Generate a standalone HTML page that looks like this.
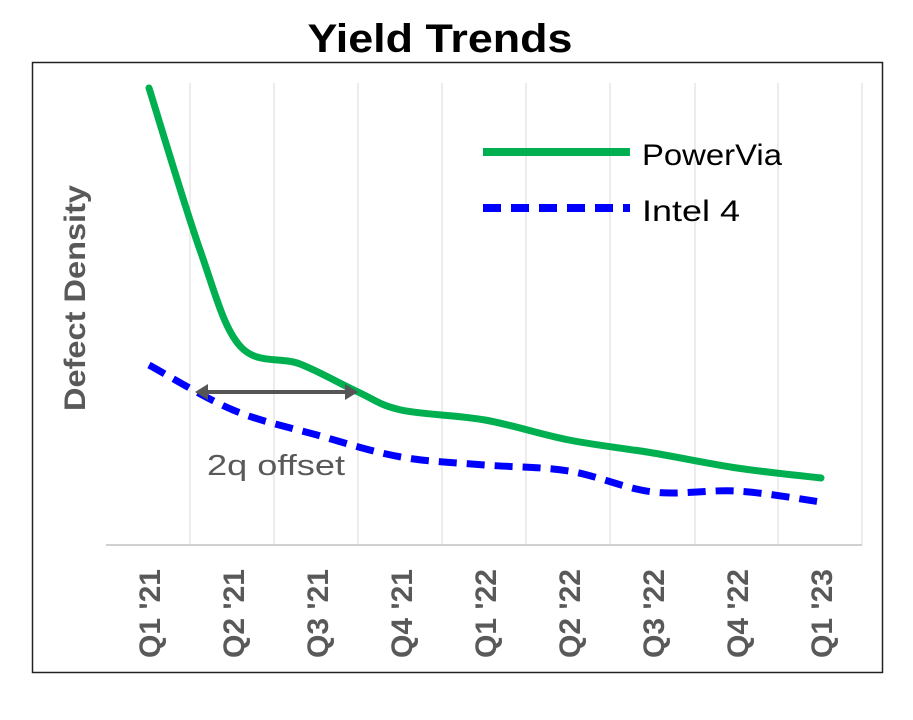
<!DOCTYPE html>
<html><head><meta charset="utf-8"><style>
html,body{margin:0;padding:0;background:#fff;}
svg{display:block;}
</style></head><body>
<svg id="s" width="913" height="720" viewBox="0 0 913 720" xmlns="http://www.w3.org/2000/svg" font-family="Liberation Sans, sans-serif">
<rect x="0" y="0" width="913" height="720" fill="#fff"/>
<text x="440" y="52" text-anchor="middle" font-size="40" font-weight="bold" fill="#000" textLength="265" lengthAdjust="spacingAndGlyphs">Yield Trends</text>
<rect x="32.5" y="62.5" width="850" height="610" fill="none" stroke="#222" stroke-width="1.5"/>
<g stroke="#d9d9d9" stroke-width="1">
<line x1="190" y1="83" x2="190" y2="545"/><line x1="274" y1="83" x2="274" y2="545"/>
<line x1="358" y1="83" x2="358" y2="545"/><line x1="442" y1="83" x2="442" y2="545"/>
<line x1="526" y1="83" x2="526" y2="545"/><line x1="610" y1="83" x2="610" y2="545"/>
<line x1="695" y1="83" x2="695" y2="545"/><line x1="778" y1="83" x2="778" y2="545"/>
<line x1="862" y1="83" x2="862" y2="545"/>
</g>
<line x1="106" y1="545" x2="862" y2="545" stroke="#d0d0d0" stroke-width="2"/>
<text transform="translate(85,298) rotate(-90)" text-anchor="middle" font-size="30" font-weight="bold" fill="#595959" textLength="226" lengthAdjust="spacingAndGlyphs">Defect Density</text>
<g font-size="30" font-weight="bold" fill="#595959" text-anchor="start">
<text transform="translate(160,658) rotate(-90)" textLength="89" lengthAdjust="spacingAndGlyphs">Q1 '21</text>
<text transform="translate(244,658) rotate(-90)" textLength="89" lengthAdjust="spacingAndGlyphs">Q2 '21</text>
<text transform="translate(328,658) rotate(-90)" textLength="89" lengthAdjust="spacingAndGlyphs">Q3 '21</text>
<text transform="translate(412,658) rotate(-90)" textLength="89" lengthAdjust="spacingAndGlyphs">Q4 '21</text>
<text transform="translate(496,658) rotate(-90)" textLength="89" lengthAdjust="spacingAndGlyphs">Q1 '22</text>
<text transform="translate(580,658) rotate(-90)" textLength="89" lengthAdjust="spacingAndGlyphs">Q2 '22</text>
<text transform="translate(664,658) rotate(-90)" textLength="89" lengthAdjust="spacingAndGlyphs">Q3 '22</text>
<text transform="translate(748,658) rotate(-90)" textLength="89" lengthAdjust="spacingAndGlyphs">Q4 '22</text>
<text transform="translate(832,658) rotate(-90)" textLength="89" lengthAdjust="spacingAndGlyphs">Q1 '23</text>
</g>
<path id="g" fill="none" stroke="#00b050" stroke-width="7" stroke-linecap="round"/>
<path id="b" fill="none" stroke="#0000ff" stroke-width="7" stroke-dasharray="18,10"/>
<line x1="205" y1="392" x2="347" y2="392" stroke="#555" stroke-width="4"/>
<polygon points="195,392 208,384 208,400" fill="#555"/>
<polygon points="358,392 345,384 345,400" fill="#555"/>
<text x="207" y="475" font-size="29" fill="#595959" textLength="138" lengthAdjust="spacingAndGlyphs">2q offset</text>
<line x1="483" y1="152" x2="630" y2="152" stroke="#00b050" stroke-width="8"/>
<line x1="483" y1="208" x2="630" y2="208" stroke="#0000ff" stroke-width="8" stroke-dasharray="18,10"/>
<text x="642" y="165" font-size="30" fill="#000" textLength="140" lengthAdjust="spacingAndGlyphs">PowerVia</text>
<text x="642" y="221" font-size="30" fill="#000" textLength="98" lengthAdjust="spacingAndGlyphs">Intel 4</text>
</svg>
<script>
function cr(p){let d="M"+p[0][0]+","+p[0][1];for(let i=0;i<p.length-1;i++){const p0=p[i-1]||p[i],p1=p[i],p2=p[i+1],p3=p[i+2]||p2;const t=6;d+=" C"+(p1[0]+(p2[0]-p0[0])/t)+","+(p1[1]+(p2[1]-p0[1])/t)+" "+(p2[0]-(p3[0]-p1[0])/t)+","+(p2[1]-(p3[1]-p1[1])/t)+" "+p2[0]+","+p2[1];}return d;}
document.getElementById("g").setAttribute("d",cr([[149,88],[200,250],[240,346],[300,364],[358,392],[401,410],[485,420],[569,440],[653,453],[737,468],[821,478]]));
document.getElementById("b").setAttribute("d",cr([[149,365],[233,410],[317,435],[401,457],[485,465],[569,471],[653,492],[737,491],[821,502]]));
</script>
</body></html>
